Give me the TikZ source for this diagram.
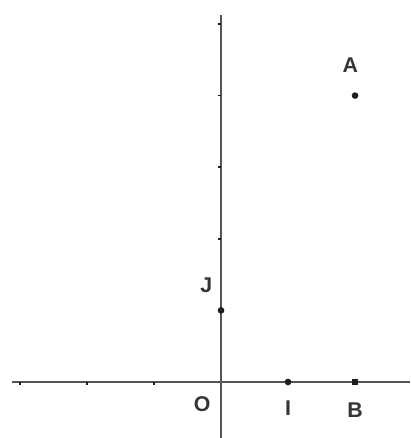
\documentclass[tikz,border=0pt]{standalone}
\usepackage{fontspec}
\setsansfont{Liberation Sans}
\usepackage{tikz}
\usetikzlibrary{positioning}
\definecolor{ink}    {HTML}{1E1E1E}
\definecolor{axisgr} {HTML}{555555}
\tikzset{
  >=stealth,
  % --- axes and marks
  axis/.style  = {draw=axisgr, line width=1.8pt},
  tickm/.style = {draw=ink, line width=1.3pt},
  pt/.style    = {circle, fill=ink, inner sep=0pt, minimum size=5pt},
  % --- labels
  lbl/.style   = {font=\fontsize{16}{18}\selectfont\sffamily\bfseries, text=ink!90, inner sep=1pt},
}
\begin{document}
\begin{tikzpicture}[x=50.25pt, y=53.7pt]
  \useasboundingbox (-3.299,-0.782) rectangle (2.821,5.335);

  \coordinate (O) at (0,0);
  \coordinate (xl) at (-3.12,0);
  \coordinate (xr) at (2.821,0);
  \coordinate (yb) at (0,-0.782);
  \coordinate (yt) at (0,5.13);

  \draw[axis] (xl) -- (xr);
  \draw[axis] (yb) -- (yt);

  % ticks
  \foreach \i in {-3,-2,-1} {
    \draw[tickm] (\i,0) -- ++(0,-0.04);
  }
  \foreach \j in {2,...,5} {
    \draw[tickm] (0,\j) -- ++(-0.05,0);
  }

  % points
  \node[pt] (I) at (1,0) {};
  \node[pt] (J) at (0,1) {};
  \node[pt] (A) at (2,4) {};
  \node[pt, rectangle, minimum size=4.5pt] (B) at (2,0) {};

  % labels
  \node[lbl] (lO) at (-0.28,-0.31) {O};
  \node[lbl] (lI) at (1,-0.36) {I};
  \node[lbl] (lB) at (2,-0.39) {B};
  \node[lbl] (lJ) at (-0.22,1.35) {J};
  \node[lbl] (lA) at (1.93,4.43) {A};
\end{tikzpicture}
\end{document}
